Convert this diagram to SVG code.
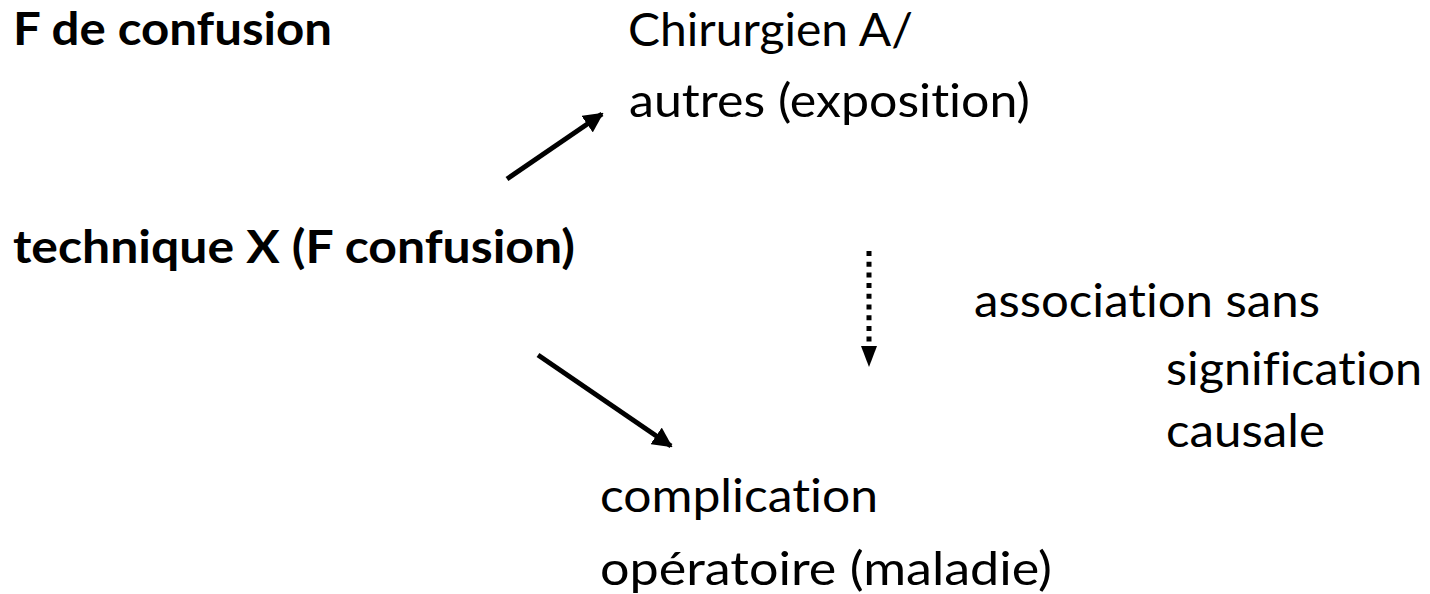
<svg xmlns="http://www.w3.org/2000/svg" width="1430" height="594" viewBox="0 0 1430 594">
  <style>
    .t { font-family: Lato, "Open Sans", "Liberation Sans", sans-serif; font-size: 46px; fill: #000; font-variant-ligatures: none; }
    .b { font-weight: bold; }
    .link { stroke: #000; stroke-width: 5; fill: none; }
    .dots { stroke: #000; stroke-width: 5; fill: none; stroke-dasharray: 5 5.7; }
  </style>
  <defs>
    <marker id="head" viewBox="0 0 10 10" refX="9" refY="5" markerWidth="4" markerHeight="4" markerUnits="strokeWidth" orient="auto">
      <path d="M0,0 L10,5 L0,10 Z" fill="#000"/>
    </marker>
  </defs>

  <g id="node-confusion-label">
    <text class="t b" x="13" y="45" textLength="319" lengthAdjust="spacingAndGlyphs">F de confusion</text>
  </g>
  <g id="node-technique">
    <text class="t b" x="13" y="263" textLength="562" lengthAdjust="spacingAndGlyphs">technique X (F confusion)</text>
  </g>
  <g id="node-exposition">
    <text class="t" x="628" y="46" textLength="285" lengthAdjust="spacingAndGlyphs">Chirurgien A/</text>
    <text class="t" x="629" y="117" textLength="401" lengthAdjust="spacingAndGlyphs">autres (exposition)</text>
  </g>
  <g id="node-maladie">
    <text class="t" x="600" y="512" textLength="278" lengthAdjust="spacingAndGlyphs">complication</text>
    <text class="t" x="600" y="585" textLength="452" lengthAdjust="spacingAndGlyphs">opératoire (maladie)</text>
  </g>
  <g id="node-association">
    <text class="t" x="974" y="317" textLength="346" lengthAdjust="spacingAndGlyphs">association sans</text>
    <text class="t" x="1166" y="385" textLength="256" lengthAdjust="spacingAndGlyphs">signification</text>
    <text class="t" x="1166" y="447" textLength="159" lengthAdjust="spacingAndGlyphs">causale</text>
  </g>

  <g id="connectors">
    <line class="link" x1="507" y1="179" x2="602" y2="114" marker-end="url(#head)"/>
    <line class="link" x1="538" y1="355" x2="671" y2="446" marker-end="url(#head)"/>
    <line class="dots" x1="869" y1="251" x2="869" y2="345"/>
    <polygon points="861,346 877,346 869,367" fill="#000"/>
  </g>
</svg>
